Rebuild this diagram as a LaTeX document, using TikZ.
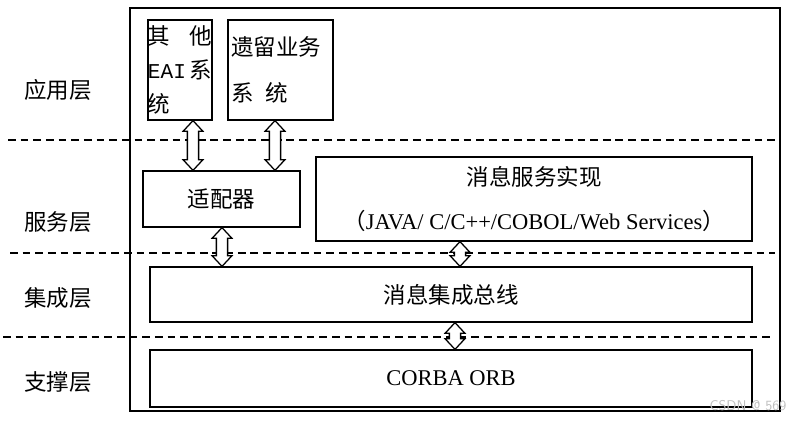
\documentclass[tikz,border=0pt]{standalone}
\usepackage{fontspec}
\setmainfont{Liberation Serif}
\setmonofont{Liberation Mono}
\newfontfamily\cjk{Noto Sans CJK SC}
\usepackage{tikz}
\usetikzlibrary{calc}

% hollow two-headed block arrow: x position, upper node, lower node
\newcommand\updown[3]{%
  \draw[blockarrow] let \p0=(#1,0), \p1=(#2.south), \p2=(#3.north) in
    (\x0,\y1) -- (\x0+7pt,\y1-7.5pt) -- (\x0+4pt,\y1-7.5pt) -- (\x0+4pt,\y2+7.5pt)
    -- (\x0+7pt,\y2+7.5pt) -- (\x0,\y2) -- (\x0-7pt,\y2+7.5pt) -- (\x0-4pt,\y2+7.5pt)
    -- (\x0-4pt,\y1-7.5pt) -- (\x0-7pt,\y1-7.5pt) -- cycle;}

\begin{document}
\begin{tikzpicture}[x=0.025cm,y=-0.025cm,
  box/.style={draw,line width=0.9pt,inner sep=0pt,align=center,
              font=\fontsize{16}{19}\selectfont\cjk},
  layer/.style={font=\fontsize{16}{19}\selectfont\cjk},
  layerline/.style={line width=0.8pt,dash pattern=on 5.5pt off 3.5pt},
  blockarrow/.style={draw,fill=white,line width=0.9pt,line join=miter}]
  \useasboundingbox (0,0) rectangle (810,422);
  % outer frame
  \draw[line width=1.1pt] (130,8) rectangle (780,411);
  % layer borders
  \draw[layerline] (8,140) -- (775,140);
  \draw[layerline] (10,253) -- (775,253);
  \draw[layerline] (3,337) -- (770,337);
  % layer names
  \node[layer] (app) at (58,90) {应用层};
  \node[layer] (svc) at (58,222) {服务层};
  \node[layer] (int) at (58,298) {集成层};
  \node[layer] (sup) at (58,382) {支撑层};
  % boxes
  \node[box,minimum width=1.6cm,minimum height=2.5cm,text width=1.6cm,align=left]
    (eai) at (180,70) {其\hfill 他\\[5pt]{\ttfamily\fontsize{15}{19}\selectfont EAI}\hfill 系\\[5pt]统};
  \node[box,minimum width=2.625cm,minimum height=2.5cm,text width=2.45cm,align=left]
    (legacy) at (280.5,70) {遗留业务\\[14pt]系\,\ 统};
  \node[box,minimum width=3.925cm,minimum height=1.4cm] (adp) at (221.5,199) {适配器};
  \node[box,minimum width=10.9cm,minimum height=2.1cm] (msg) at (534,199)
    {消息服务实现\\[12pt]{\fontsize{16}{18}\selectfont（\rmfamily JAVA/ C/C++/COBOL/Web Services\cjk）}};
  \node[box,minimum width=15.05cm,minimum height=1.375cm] (bus) at (451,294.5) {消息集成总线};
  \node[box,minimum width=15.05cm,minimum height=1.425cm,font=\fontsize{16}{19}\selectfont]
    (orb) at (451,378.5) {CORBA ORB};
  % arrows
  \updown{193}{eai}{adp}
  \updown{275}{legacy}{adp}
  \updown{222}{adp}{bus}
  \updown{460}{msg}{bus}
  \updown{455}{bus}{orb}
  \node[text=black!25,font=\fontsize{10}{12}\selectfont\sffamily] (mark) at (748,406) {CSDN @ 569};
\end{tikzpicture}
\end{document}
